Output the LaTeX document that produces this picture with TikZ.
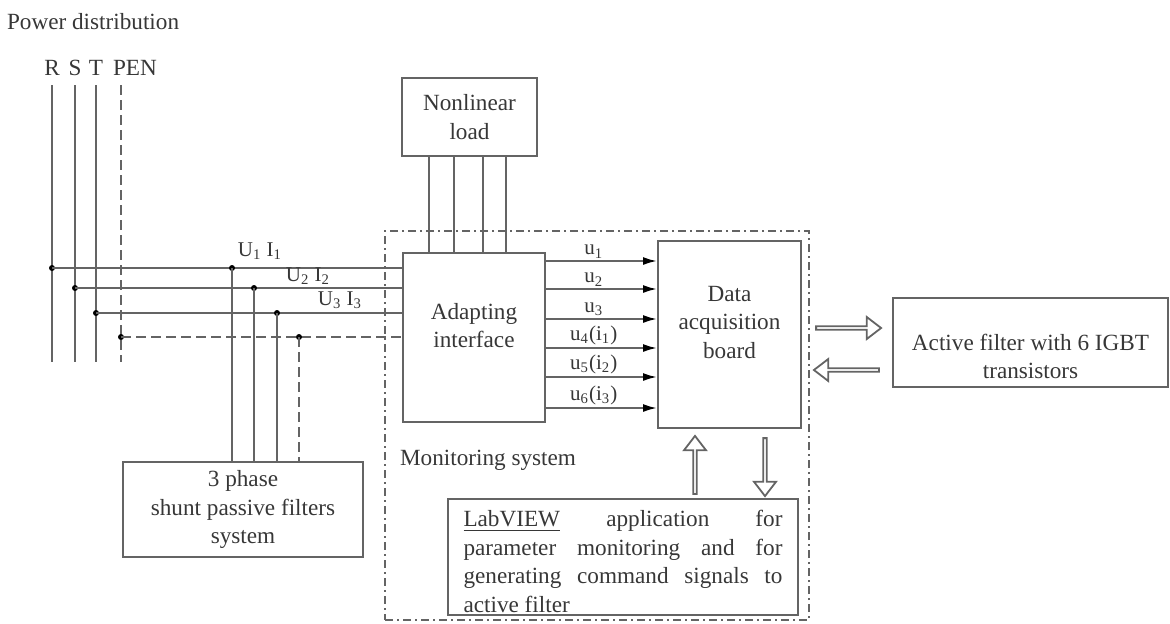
\documentclass[tikz,border=0pt]{standalone}
\usepackage{fontspec}
\setmainfont{Liberation Serif}
\usepackage{tikz}
\usetikzlibrary{arrows.meta,shapes,shapes.arrows,positioning}
\usepackage{xcolor}
\definecolor{pdline}{RGB}{100,100,100}
\definecolor{pdtext}{RGB}{55,55,55}
\tikzstyle{block} = [rectangle, draw=pdline, line width=1pt, text=pdtext, align=center, inner sep=2pt]
\tikzstyle{bus} = [draw=pdline, line width=1pt]
\tikzstyle{pen} = [bus, dash pattern=on 5pt off 2.5pt]
\tikzstyle{sig} = [bus, -{Latex[length=7pt,width=4pt,color=black]}]
\tikzstyle{tap} = [circle, fill=black, inner sep=0pt, minimum size=3pt]
\tikzstyle{tag} = [text=pdtext, font=\fontsize{10.5}{12}\selectfont, inner sep=1pt]
\tikzstyle{hollow} = [single arrow, draw=pdline, line width=0.9pt, fill=white, minimum height=32.5pt, minimum width=11pt, single arrow head extend=2.5pt, single arrow tip angle=75, inner sep=0pt]

\begin{document}
\begin{tikzpicture}[x=0.5pt, y=-0.5pt, font=\fontsize{11.6}{14.3}\selectfont, text=pdtext]
\useasboundingbox (0,0) rectangle (1170,623);

% monitoring frame
\node[draw=pdline, line width=0.9pt, dash pattern=on 4pt off 2pt on 1pt off 2pt, minimum width=212pt, minimum height=194.5pt] (mon) at (597,425.5) {};
\node[anchor=west] (monlbl) at (393,460) {Monitoring system};

\node[anchor=west] (pwr) at (0,22) {Power distribution};

% blocks
\node[block, minimum width=67.5pt, minimum height=39pt] (nload) at (469.5,117) {Nonlinear\\load};
\node[block, minimum width=71pt, minimum height=84.5pt, label={[align=center, yshift=6pt]center:Adapting\\interface}] (adapt) at (474,337.5) {};
\node[block, minimum width=71.5pt, minimum height=93.5pt, label={[align=center, yshift=6pt]center:Data\\acquisition\\board}] (daq) at (729.5,334.5) {};
\node[block, minimum width=137.5pt, minimum height=44.5pt, label={[align=center, yshift=-7pt]center:Active filter with 6 IGBT\\transistors}] (active) at (1030.5,342.5) {};
\node[block, minimum width=120pt, minimum height=47.5pt] (filt) at (243,509.5) {3 phase\\shunt passive filters\\system};
\node[block, minimum width=175pt, minimum height=58pt] (labview) at (623,557) {};
\node[below=6pt of labview.north, text width=159.5pt, align=justify, inner sep=0pt] (labviewtxt)
  {\underline{LabVIEW} application for\linebreak parameter monitoring and for\linebreak generating command signals to\linebreak active filter};

% supply lines
\coordinate (rtop) at (52,85);
\coordinate (stop) at (75,85);
\coordinate (ttop) at (96,85);
\coordinate (pentop) at (121,85);
\draw[bus] (rtop) -- ++(0,277);
\draw[bus] (stop) -- ++(0,277);
\draw[bus] (ttop) -- ++(0,277);
\draw[pen] (pentop) -- ++(0,277);
\node[above=1pt of rtop] (rlbl) {R};
\node[above=1pt of stop] (slbl) {S};
\node[above=1pt of ttop] (tlbl) {T};
\node[above=1pt of pentop, xshift=7pt] (penlbl) {PEN};

\node[tap] (rdot) at (52,268) {};
\node[tap] (sdot) at (75,288) {};
\node[tap] (tdot) at (96,313) {};
\node[tap] (pendot) at (121,337) {};
\draw[bus] (rdot.center) -- (rdot -| adapt.west);
\draw[bus] (sdot.center) -- (sdot -| adapt.west);
\draw[bus] (tdot.center) -- (tdot -| adapt.west);
\draw[pen] (pendot.center) -- (pendot -| adapt.west);

% taps to passive filters
\node[tap] (rtap) at (232,268) {};
\node[tap] (stap) at (254,288) {};
\node[tap] (ttap) at (277,313) {};
\node[tap] (pentap) at (299,337) {};
\draw[bus] (rtap.center) -- (rtap |- filt.north);
\draw[bus] (stap.center) -- (stap |- filt.north);
\draw[bus] (ttap.center) -- (ttap |- filt.north);
\draw[pen] (pentap.center) -- (pentap |- filt.north);
\node[tag] (ui1) at (260,251) {U\textsubscript{1}\ I\textsubscript{1}};
\node[tag] (ui2) at (308,276) {U\textsubscript{2}\ I\textsubscript{2}};
\node[tag] (ui3) at (340,300) {U\textsubscript{3}\ I\textsubscript{3}};

% load wires
\foreach \x in {429,454,483,506}
  \draw[bus] (\x,156) -- (\x,253);

% measured signals
\foreach \y/\lab in {261/u\textsubscript{1}, 289/u\textsubscript{2}, 319/u\textsubscript{3}, 348/u\textsubscript{4}(i\textsubscript{1}), 377/u\textsubscript{5}(i\textsubscript{2}), 408/u\textsubscript{6}(i\textsubscript{3})}
  \draw[sig] (adapt.east |- 0,\y) -- node[tag, pos=0.43, above] {\lab} (daq.west |- 0,\y);

% data exchange
\node[hollow] (toactive) at (847.5,328) {};
\node[hollow, rotate=180] (fromactive) at (847.5,370) {};
\node[hollow, rotate=90, minimum height=29pt] (toboard) at (695,466) {};
\node[hollow, rotate=-90, minimum height=29pt] (toapp) at (765,466) {};
\end{tikzpicture}
\end{document}
